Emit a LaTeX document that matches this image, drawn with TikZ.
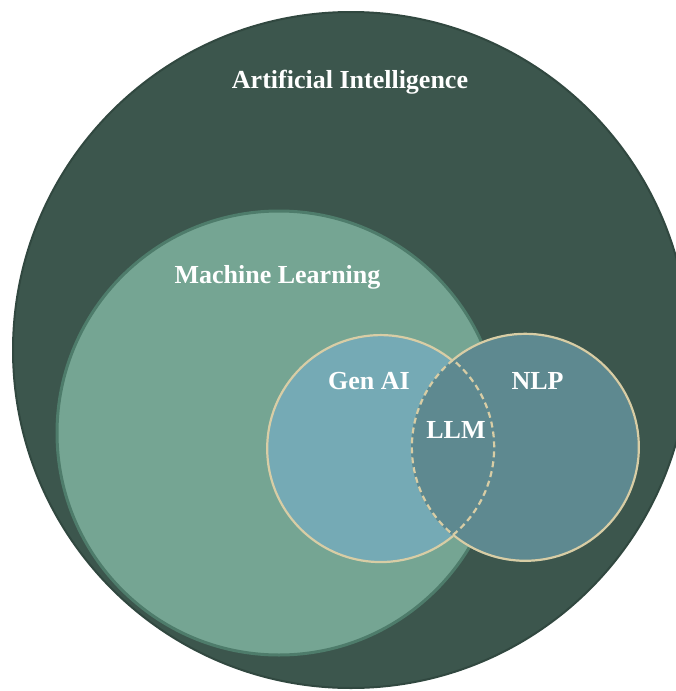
\documentclass[tikz,border=0pt]{standalone}
\usepackage{fontspec}
\setmainfont{Liberation Serif}
\definecolor{aifill}{HTML}{3C564D}
\definecolor{aiedge}{HTML}{314840}
\definecolor{mlfill}{HTML}{75A593}
\definecolor{mledge}{HTML}{4E7C6B}
\definecolor{genfill}{HTML}{75AAB5}
\definecolor{nlpfill}{HTML}{5E8990}
\definecolor{beige}{HTML}{D8CDA5}
\begin{document}
\begin{tikzpicture}[x=1pt,y=-1pt,
  disc/.style={circle, inner sep=0pt, outer sep=0pt},
  lbl/.style={text=white, font=\fontsize{26}{30}\selectfont\bfseries, anchor=base, inner sep=0pt},
  rim/.style={draw=beige, line width=2.2pt},
  rimdash/.style={draw=beige, line width=2.2pt, dash pattern=on 6pt off 4pt}]
\clip (0,0) rectangle (676,691);
\fill[white] (0,0) rectangle (676,691);
\node[disc, minimum size=676pt, fill=aifill, draw=aiedge, line width=2pt] (ai) at (351,350) {};
\node[disc, minimum size=444pt, fill=mlfill, draw=mledge, line width=3pt] (ml) at (279,433) {};
\node[disc, minimum size=227pt, fill=genfill] (gen) at (380,448) {};
\node[disc, minimum size=227pt, fill=nlpfill] (nlp) at (524.5,448) {};
% outlines
\draw[rim] (gen.50.45) arc[start angle=50.45, end angle=309.55, radius=113.5pt];
\draw[rimdash] (gen.-50.45) arc[start angle=-50.45, end angle=50.45, radius=113.5pt];
\draw[rim] (nlp.129.55) arc[start angle=129.55, end angle=-129.55, radius=113.5pt];
\draw[rimdash] (nlp.129.55) arc[start angle=129.55, end angle=230.45, radius=113.5pt];
% labels
\node[lbl] (tai) at (350,88) {Artificial Intelligence};
\node[lbl] (tml) at (277.5,283) {Machine Learning};
\node[lbl] (tgen) at (369,389) {Gen AI};
\node[lbl] (tnlp) at (537.5,389) {NLP};
\node[lbl] (tllm) at (456,438) {LLM};
\end{tikzpicture}
\end{document}
